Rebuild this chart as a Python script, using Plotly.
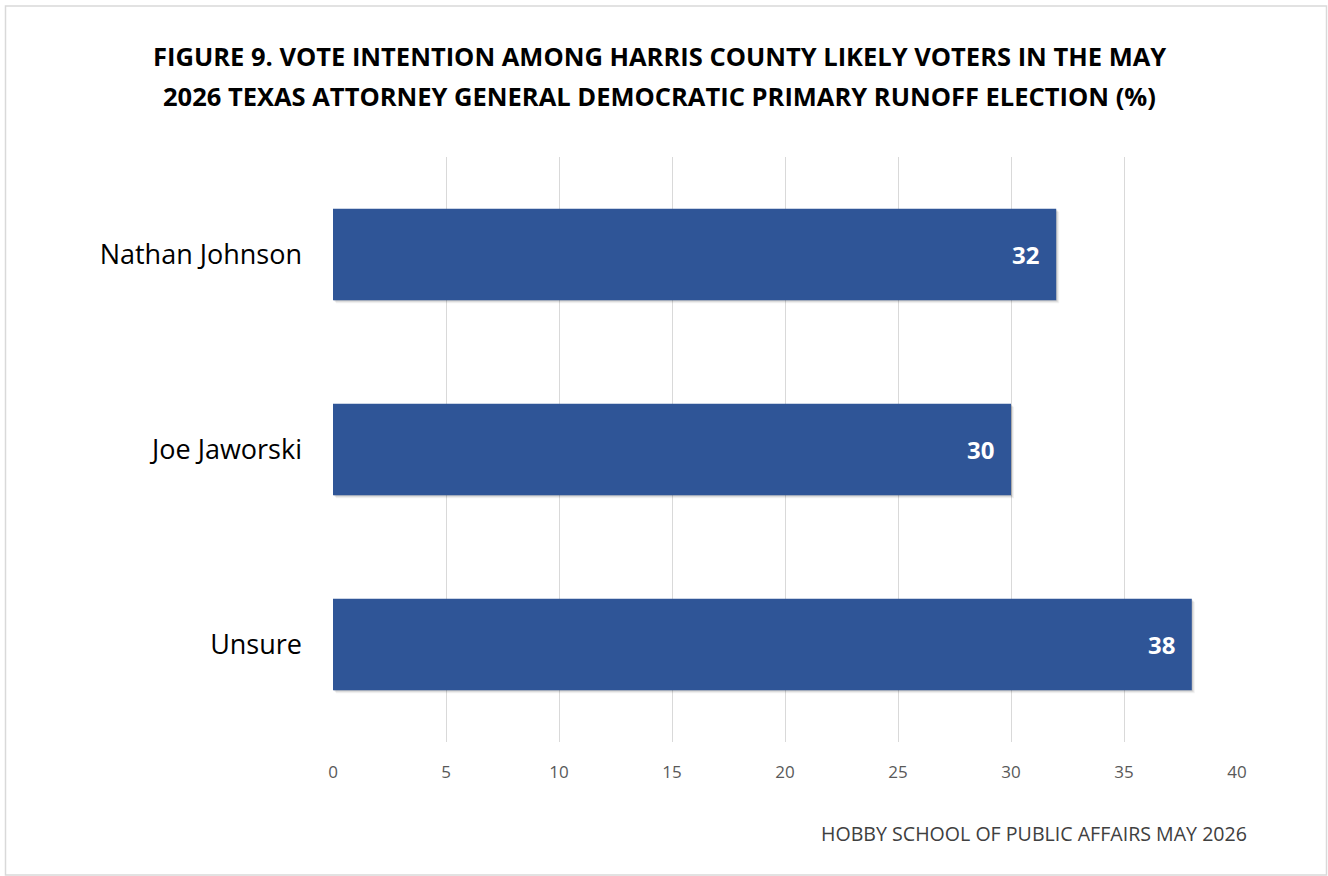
import plotly.graph_objects as go

categories = ["Nathan Johnson", "Joe Jaworski", "Unsure"]
values = [32, 30, 38]
x_ticks = [0, 5, 10, 15, 20, 25, 30, 35, 40]

title_lines = ["FIGURE 9. VOTE INTENTION AMONG HARRIS COUNTY LIKELY VOTERS IN THE MAY",
               "2026 TEXAS ATTORNEY GENERAL DEMOCRATIC PRIMARY RUNOFF ELECTION (%)"]
source_text = "HOBBY SCHOOL OF PUBLIC AFFAIRS MAY 2026"

W, H = 1328, 876
L, R, T, B = 333, 91, 157, 134
BAR_W = 0.47

fig = go.Figure()

# soft drop shadow layers (down-right)
for i, op in enumerate([0.10, 0.07, 0.05]):
    s = i + 1
    fig.add_trace(go.Bar(
        y=categories, x=values, orientation="h",
        base=s * 40 / (W - L - R),
        offset=-BAR_W / 2 - s / 195, width=BAR_W,
        marker=dict(color=f"rgba(0,0,0,{op})", line=dict(width=0)),
        hoverinfo="skip",
    ))

fig.add_trace(go.Bar(
    y=categories, x=values, orientation="h",
    offset=-BAR_W / 2, width=BAR_W,
    marker=dict(color="#2F5597", line=dict(width=0)),
    hoverinfo="skip",
))

pw, ph = W - L - R, H - T - B
def px(x):
    return (x - L) / pw
def py(y):
    return (H - B - y) / ph

annotations = []
for cat, v in zip(categories, values):
    annotations.append(dict(text=f"<b>{v}</b>", x=v, y=cat, xref="x", yref="y",
                            xanchor="right", yanchor="middle", xshift=-15, showarrow=False,
                            font=dict(family="Open Sans", size=24, color="white")))
for i, line in enumerate(title_lines):
    annotations.append(dict(text=f"<b>{line}</b>", xref="paper", yref="paper",
                            x=px(659), y=py(56 + 40 * i), xanchor="center", yanchor="middle",
                            showarrow=False,
                            font=dict(family="Open Sans", size=25.5, color="#000000")))
annotations.append(dict(text=source_text, xref="paper", yref="paper",
                        x=px(1249), y=py(834), xanchor="right", yanchor="middle", showarrow=False,
                        font=dict(family="Open Sans", size=19.6, color="#404040")))

fig.update_layout(
    width=W, height=H,
    margin=dict(l=L, r=R, t=T, b=B),
    paper_bgcolor="white", plot_bgcolor="white",
    showlegend=False,
    barmode="overlay",
    xaxis=dict(range=[0, 40], tickvals=x_ticks, showgrid=True, gridcolor="#D9D9D9", gridwidth=1,
               zeroline=False, showline=False, ticks="",
               tickfont=dict(family="Open Sans", size=17, color="#595959"),
               ticklabelstandoff=18),
    yaxis=dict(categoryorder="array", categoryarray=categories[::-1],
               showgrid=False, zeroline=False, showline=False, ticks="",
               tickfont=dict(family="Open Sans", size=27, color="#000000"),
               ticklabelstandoff=30),
    shapes=[dict(type="rect", xref="paper", yref="paper",
                 x0=px(5.5), x1=px(1326.5), y0=py(875), y1=py(6),
                 line=dict(color="#D9D9D9", width=1.5), fillcolor="rgba(0,0,0,0)", layer="below")],
    annotations=annotations,
)

fig.write_html("out.html", config={"displayModeBar": False},
               post_script="document.body.style.margin='0';document.body.style.overflow='hidden';")
